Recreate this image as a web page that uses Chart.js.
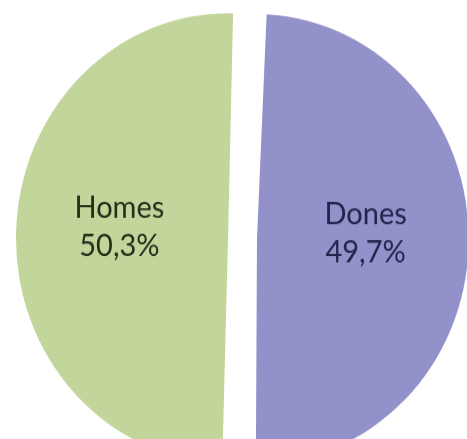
<!DOCTYPE html>
<html>
<head>
<meta charset="utf-8">
<script src="https://cdn.jsdelivr.net/npm/chart.js@4"></script>
<style>
  html, body { margin: 0; padding: 0; background: #fff; overflow: hidden; }
  /* the original picture is slightly taller than wide, so stretch it a bit */
  #wrap {
    position: absolute; left: 16px; top: 11.5px; width: 453px; height: 453px;
    transform: scaleY(1.061); transform-origin: 50% 50%;
  }
</style>
</head>
<body>
<div id="wrap"><canvas id="pieChart"></canvas></div>
<script>
// data (starting at 12 o'clock, clockwise)
const labels = ['Dones', 'Homes'];
const values = [49.7, 50.3];
const valueText = ['49,7%', '50,3%'];
const colors = ['#9391ca', '#c2d59a'];
const textColors = ['#24244c', '#23301a'];
const explode = 58;

// draws "name / percent" inside each slice
const sliceLabels = {
  id: 'sliceLabels',
  afterDatasetsDraw(chart) {
    const ctx = chart.ctx;
    const meta = chart.getDatasetMeta(0);
    ctx.save();
    ctx.font = '29px Lato';
    ctx.textAlign = 'center';
    ctx.textBaseline = 'middle';
    meta.data.forEach((arc, i) => {
      const mid = (arc.startAngle + arc.endAngle) / 2;
      // slices are moved out by offset/4 when drawn
      const r = arc.outerRadius * 0.55 + explode / 4;
      const x = arc.x + Math.cos(mid) * r;
      const y = arc.y + Math.sin(mid) * r - 8;
      ctx.fillStyle = textColors[i];
      ctx.fillText(labels[i], x, y - 18);
      ctx.fillText(valueText[i], x, y + 18);
    });
    ctx.restore();
  }
};

new Chart(document.getElementById('pieChart'), {
  type: 'pie',
  data: {
    labels: labels,
    datasets: [{
      data: values,
      backgroundColor: colors,
      borderWidth: 0,
      offset: explode,
      hoverOffset: 0
    }]
  },
  options: {
    responsive: true,
    maintainAspectRatio: false,
    animation: false,
    rotation: 2,
    plugins: {
      legend: { display: false },
      tooltip: { enabled: false }
    }
  },
  plugins: [sliceLabels]
});
</script>
</body>
</html>
